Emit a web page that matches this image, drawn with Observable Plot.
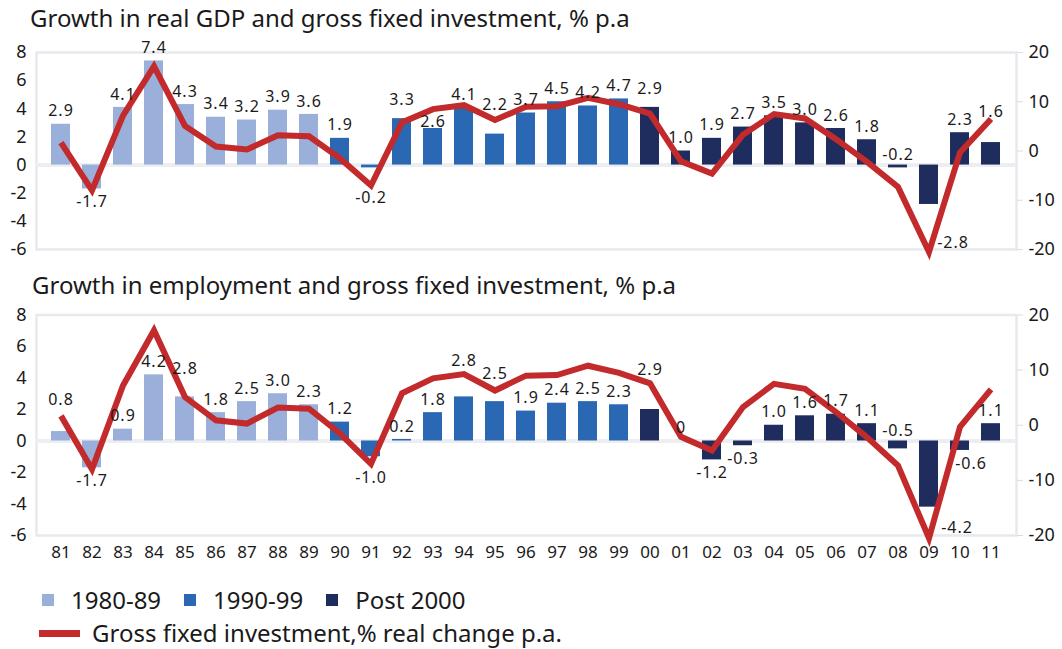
<!DOCTYPE html>
<html>
<head>
<meta charset="utf-8">
<script src="https://cdn.jsdelivr.net/npm/d3@7"></script>
<script src="https://cdn.jsdelivr.net/npm/@observablehq/plot@0.6"></script>
<style>
  html, body { margin: 0; padding: 0; background: #ffffff; }
  #root { position: relative; width: 1062px; height: 649px; overflow: hidden;
          font-family: "Noto Sans", sans-serif; color: #1a1a1a; }
  .title { position: absolute; font-size: 24px; line-height: 24px; white-space: nowrap; }
  .panel { position: absolute; left: 0; }
  .panel svg { overflow: visible; }
  .panel g[aria-label="text"] text { letter-spacing: 1px; }
  .legend-row { position: absolute; display: flex; align-items: center; height: 24px;
                font-size: 24px; line-height: 24px; white-space: nowrap; }
  .sq { display: inline-block; width: 12px; height: 12px; margin-right: 17px; }
  .item { display: flex; align-items: center; margin-right: 23px; }
  .ln { display: inline-block; width: 41px; height: 7px; margin-right: 12px; }
</style>
</head>
<body>
<div id="root"></div>
<script>
// ---------------- data ----------------
const years = ["81","82","83","84","85","86","87","88","89","90","91","92","93","94","95","96",
               "97","98","99","00","01","02","03","04","05","06","07","08","09","10","11"];

// Growth in real GDP, % p.a. (bar heights as drawn)
const gdp = [2.9,-1.7,4.1,7.4,4.3,3.4,3.2,3.9,3.6,1.9,-0.2,3.3,2.6,4.1,2.2,3.7,
             4.5,4.2,4.7,4.1,1.0,1.9,2.7,3.5,3.0,2.6,1.8,-0.2,-2.8,2.3,1.6];
const gdpLabels = ["2.9","-1.7","4.1","7.4","4.3","3.4","3.2","3.9","3.6","1.9","-0.2","3.3","2.6","4.1","2.2","3.7",
                   "4.5","4.2","4.7","2.9","1.0","1.9","2.7","3.5","3.0","2.6","1.8","-0.2","-2.8","2.3","1.6"];

// Growth in employment, % p.a. (bar heights as drawn)
const employment = [0.6,-1.7,0.75,4.2,2.8,1.8,2.5,3.0,2.3,1.2,-1.0,0.1,1.8,2.8,2.5,1.9,
                    2.4,2.5,2.3,2.0,0,-1.2,-0.3,1.0,1.6,1.7,1.1,-0.5,-4.2,-0.6,1.1];
const employmentLabels = ["0.8","-1.7","0.9","4.2","2.8","1.8","2.5","3.0","2.3","1.2","-1.0","0.2","1.8","2.8","2.5","1.9",
                          "2.4","2.5","2.3","2.9","0","-1.2","-0.3","1.0","1.6","1.7","1.1","-0.5","-4.2","-0.6","1.1"];

// Gross fixed investment, % real change p.a. (right axis)
const investment = [1.7,-8.0,7.2,17.2,5.1,0.9,0.3,3.2,3.0,-1.5,-7.0,5.8,8.5,9.3,6.3,9.0,
                    9.1,10.8,9.5,7.6,-2.1,-4.6,3.3,7.5,6.6,2.4,-2.2,-7.3,-20.5,-0.3,6.5];

const periods = ["1980-89", "1990-99", "Post 2000"];
const leftTicks = [-6,-4,-2,0,2,4,6,8];
const rightTicks = [-20,-10,0,10,20];
const title1 = "Growth in real GDP and gross fixed investment, % p.a";
const title2 = "Growth in employment and gross fixed investment, % p.a";
const lineName = "Gross fixed investment,% real change p.a.";

// ---------------- styling ----------------
const periodColors = ["#9aafda", "#2b68b3", "#1f2d5e"];
const lineColor = "#c22a2b";
const leftDomain = [-6, 8];
const rightDomain = [-20, 20];

const periodOf = yr => { const n = +yr; return (n >= 81 && n <= 89) ? periods[0] : (n >= 90 ? periods[1] : periods[2]); };
const toLeft = v => leftDomain[0] + (v - rightDomain[0]) * (leftDomain[1] - leftDomain[0]) / (rightDomain[1] - rightDomain[0]);
const fromLeft = v => rightDomain[0] + (v - leftDomain[0]) * (rightDomain[1] - rightDomain[0]) / (leftDomain[1] - leftDomain[0]);

// label nudges (pixels) where the original moved labels off the bar end
const nudgesTop = {"91":[0,17], "92":[0,-6], "93":[0,6], "95":[0,-16], "00":[0,-6], "08":[0,-26], "09":[24,25], "11":[0,-18]};
const nudgesBottom = {"81":[0,-19], "85":[0,-15], "91":[0,8], "94":[0,-23], "95":[0,-15], "00":[0,-27], "08":[0,-31], "09":[28,8], "10":[11,0]};

function labelMarks(rows, nudges) {
  const groups = d3.group(rows, d => {
    const n = nudges[d.year] || [0, 0];
    const base = d.value >= 0 ? -13 : 13;
    return `${n[0]},${base + n[1]}`;
  });
  return Array.from(groups, ([k, g]) => {
    const [dx, dy] = k.split(",").map(Number);
    return Plot.text(g, {x: "year", y: "value", text: "label", dx, dy,
                         fontSize: 16, fill: "#1a1a1a", fontFamily: "Noto Sans"});
  });
}

function panel(values, labels, nudges, height, marginTop, marginBottom, showX) {
  const rows = years.map((yr, i) => ({year: yr, value: values[i], label: labels[i], inv: investment[i], period: periodOf(yr)}));
  return Plot.plot({
    width: 1062, height, marginLeft: 36, marginRight: 46, marginTop, marginBottom,
    style: {fontFamily: "Noto Sans", fontSize: "18px", color: "#1a1a1a", background: "transparent"},
    x: {type: "band", domain: years, paddingInner: 0.38, paddingOuter: 0.19, axis: null, label: null},
    y: {domain: leftDomain, axis: null, label: null},
    color: {domain: periods, range: periodColors},
    marks: [
      Plot.frame({stroke: "#e7e9ee", strokeWidth: 2.5}),
      Plot.ruleY([0], {stroke: "#eceef2", strokeWidth: 4}),
      Plot.barY(rows, {x: "year", y: "value", fill: "period"}),
      Plot.line(rows, {x: "year", y: d => toLeft(d.inv), stroke: lineColor, strokeWidth: 6,
                       strokeLinejoin: "miter", strokeMiterlimit: 10, strokeLinecap: "butt"}),
      ...labelMarks(rows, nudges),
      Plot.axisY(leftTicks, {anchor: "left", tickSize: 0, tickPadding: 10, fontSize: 18, label: null,
                             tickFormat: d => String(d), fill: "#1a1a1a"}),
      Plot.axisY(rightTicks.map(toLeft), {anchor: "right", tickSize: 6, tickPadding: 6, fontSize: 18, label: null,
                             tickFormat: d => String(Math.round(fromLeft(d))), stroke: "#d9dce2", fill: "#1a1a1a"}),
      showX ? Plot.axisX({tickSize: 0, tickPadding: 10, fontSize: 17, fill: "#1a1a1a", label: null}) : null
    ]
  });
}

// ---------------- layout ----------------
const root = document.getElementById("root");

const t1 = document.createElement("div");
t1.className = "title"; t1.style.left = "30px"; t1.style.top = "6px"; t1.textContent = title1;
root.appendChild(t1);

const p1 = document.createElement("div");
p1.className = "panel"; p1.style.top = "36px";
p1.appendChild(panel(gdp, gdpLabels, nudgesTop, 232, 16, 19, false));
root.appendChild(p1);

const t2 = document.createElement("div");
t2.className = "title"; t2.style.left = "32px"; t2.style.top = "273px"; t2.textContent = title2;
root.appendChild(t2);

const p2 = document.createElement("div");
p2.className = "panel"; p2.style.top = "300px";
p2.appendChild(panel(employment, employmentLabels, nudgesBottom, 270, 14.5, 35, true));
root.appendChild(p2);

// legend
const row1 = document.createElement("div");
row1.className = "legend-row"; row1.style.left = "42px"; row1.style.top = "588px";
periods.forEach((p, i) => {
  const it = document.createElement("span"); it.className = "item";
  const sq = document.createElement("span"); sq.className = "sq"; sq.style.background = periodColors[i];
  const tx = document.createElement("span"); tx.textContent = p;
  it.appendChild(sq); it.appendChild(tx); row1.appendChild(it);
});
root.appendChild(row1);

const row2 = document.createElement("div");
row2.className = "legend-row"; row2.style.left = "39px"; row2.style.top = "621px";
const ln = document.createElement("span"); ln.className = "ln"; ln.style.background = lineColor;
const lt = document.createElement("span"); lt.textContent = lineName;
row2.appendChild(ln); row2.appendChild(lt);
root.appendChild(row2);
</script>
</body>
</html>
